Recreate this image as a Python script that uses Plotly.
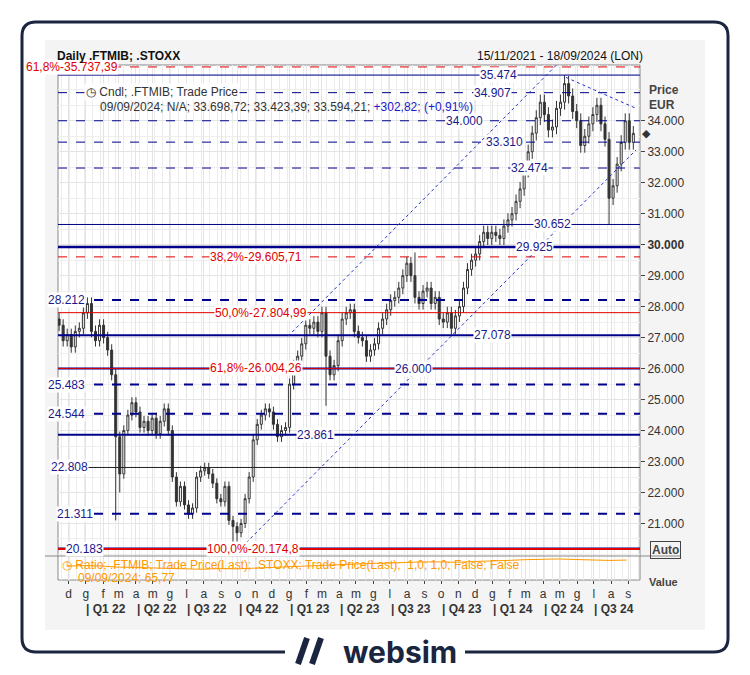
import pandas as pd
import plotly.graph_objects as go

# page body has an 8px margin, so the figure is drawn 8px smaller and shifted
OFF = 8
W, H = 750 - OFF, 675 - OFF

# weekly closes of .FTMIB (15/11/2021 - 18/09/2024)
closes = [
    27400, 26900,
    27100, 26700, 27200, 27300,
    27800, 28100, 27200, 26900,
    27400, 27000, 26600, 25800,
    23800, 22600, 24000, 24500, 24900,
    24600, 24100, 24300, 24000,
    24400, 23900, 24300, 24700,
    24000, 22500, 21700, 22200,
    21600, 21300, 21500, 22500, 22700,
    22800, 22600, 22300, 21800,
    21700, 22200, 21100, 20900,
    20700, 21000, 21800, 22500,
    23700, 24200, 24500, 24700,
    24600, 24200, 23800, 24000, 24100,
    25500, 26100, 26400, 26800,
    27400, 27300, 27500, 27200,
    27800, 26400, 25800, 26100, 26900,
    27600, 27800, 27900, 27200,
    27000, 26900, 26400, 26600,
    26800, 27300, 27600, 27900, 28200,
    28300, 28600, 29000, 29400,
    29000, 28300, 28100, 28500,
    28600, 28100, 28300, 27600,
    27500, 27800, 27300, 27700, 28000,
    28600, 29200, 29500, 29700,
    30100, 30400, 30200, 30400,
    30300, 30200, 30600, 30800,
    31000, 31400, 31800, 32400,
    33000, 33600, 34100, 34600,
    34200, 33700, 33800, 34400,
    34600, 35200, 34800, 34300,
    34000, 33200, 33500, 33900,
    34200, 34500, 33900, 33400,
    31500, 31900, 32600, 33300,
    34000, 33300, 33594,
]
first_open = 27600
# weeks with long wicks: (week index, value)
deep_lows = [(14, 21100), (15, 22000), (43, 20400), (44, 20250), (66, 24800), (136, 30650)]
deep_highs = [(125, 35474), (88, 29750)]

# ratio FTMIB/STOXX, monthly
ratio_dates = pd.date_range("2021-11-15", "2024-09-15", freq="MS")
ratio_vals = [62.5, 62.8, 62.6, 62.0, 61.8, 61.5, 61.6, 61.0, 60.8, 61.2, 61.0, 61.4,
              61.8, 62.2, 62.6, 63.0, 63.4, 63.6, 64.0, 64.2, 64.6, 64.8, 64.8, 64.6,
              65.0, 65.2, 65.6, 66.0, 66.2, 66.4, 66.1, 65.8, 65.6, 65.8][:len(ratio_dates)]

# horizontal levels: value, label, colour, width, dash, label x (date)
levels = [
    (35474, "35.474", "#00008b", 1, "solid", "2024-01-15"),
    (34907, "34.907", "#00008b", 1, "dash", "2024-01-05"),
    (34000, "34.000", "#00008b", 1, "dash", "2023-11-15"),
    (33310, "33.310", "#00008b", 1, "dash", "2024-01-25"),
    (32474, "32.474", "#00008b", 1, "dash", "2024-03-10"),
    (30652, "30.652", "#00008b", 1, "solid", "2024-04-20"),
    (29925, "29.925", "#00008b", 2.5, "solid", "2024-03-20"),
    (28212, "28.212", "#00008b", 2, "dash", "2021-12-01"),
    (27078, "27.078", "#00008b", 2, "solid", "2024-01-05"),
    (26000, "26.000", "#00008b", 2, "solid", "2023-08-15"),
    (25483, "25.483", "#00008b", 2, "dash", "2021-12-01"),
    (24544, "24.544", "#00008b", 2, "dash", "2021-12-01"),
    (23861, "23.861", "#00008b", 2, "solid", "2023-02-20"),
    (22808, "22.808", "#222222", 1, "solid", "2021-12-05"),
    (21311, "21.311", "#00008b", 2, "dash", "2021-12-15"),
    (20183, "20.183", "#00008b", 2.5, "solid", "2022-01-01"),
]
fibs = [
    (35737.39, "61,8%-35.737,39", "dash", "2021-12-10"),
    (29605.71, "38,2%-29.605,71", "dash", "2022-11-05"),
    (27804.99, "50,0%-27.804,99", "solid", "2022-11-15"),
    (26004.26, "61,8%-26.004,26", "solid", "2022-11-05"),
    (20174.8, "100,0%-20.174,8", "solid", "2022-11-01"),
]
# trend lines: (date0, price0, date1, price1)
trends = [
    ("2022-10-19", 20380, "2024-09-18", 33060),
    ("2023-01-02", 27045, "2024-04-28", 35800),
    ("2024-05-15", 35400, "2024-09-18", 34400),
]

months = pd.date_range("2021-12-01", "2024-09-01", freq="MS")
month_letters = ["d", "g", "f", "m", "a", "m", "g", "l", "a", "s", "o", "n"] * 3
quarters = ["Q1 22", "Q2 22", "Q3 22", "Q4 22", "Q1 23", "Q2 23", "Q3 23",
            "Q4 23", "Q1 24", "Q2 24", "Q3 24"]
quarter_mid = pd.date_range("2022-01-01", periods=len(quarters), freq="3MS") + pd.Timedelta(days=40)
price_ticks = list(range(21000, 35000, 1000))

dates = pd.date_range("2021-11-17", "2024-09-13", periods=len(closes))
opens = [first_open] + closes[:-1]
highs = [max(o, c) * 1.007 for o, c in zip(opens, closes)]
lows = [min(o, c) * 0.993 for o, c in zip(opens, closes)]
for i, v in deep_lows:
    lows[i] = v
for i, v in deep_highs:
    highs[i] = v


def px_(x):
    return (x - OFF) / W


def py(y):
    return 1 - (y - OFF) / H


x0, x1 = px_(58), px_(640)
FONT = "Liberation Sans"

fig = go.Figure()
fig.add_trace(go.Candlestick(
    x=dates, open=opens, high=highs, low=lows, close=closes,
    increasing=dict(line=dict(color="#333", width=1), fillcolor="white"),
    decreasing=dict(line=dict(color="#333", width=1), fillcolor="#333"),
    whiskerwidth=0, showlegend=False, hoverinfo="skip",
))
fig.add_trace(go.Scatter(x=ratio_dates, y=ratio_vals, mode="lines",
                         line=dict(color="#ff9900", width=1), yaxis="y2",
                         showlegend=False, hoverinfo="skip"))

shapes = []
anns = []
for v, lab, col, w, dash, lx in levels:
    shapes.append(dict(type="line", xref="x domain", yref="y", x0=0, x1=1, y0=v, y1=v,
                       line=dict(color=col, width=w, dash=dash)))
    anns.append(dict(x=lx, y=v, xref="x", yref="y", text=lab, showarrow=False,
                     font=dict(color="#1a1a8c", size=12), bgcolor="white", borderpad=0))
for v, lab, dash, lx in fibs:
    shapes.append(dict(type="line", xref="x domain", yref="y", x0=0, x1=1, y0=v, y1=v,
                       line=dict(color="#e00000", width=2 if v < 21000 else 1, dash=dash)))
    anns.append(dict(x=lx, y=v, xref="x", yref="y", text=lab, showarrow=False,
                     font=dict(color="#e00000", size=12), bgcolor="white", borderpad=0))
for d0, p0, d1, p1 in trends:
    shapes.append(dict(type="line", xref="x", yref="y", x0=d0, y0=p0, x1=d1, y1=p1,
                       line=dict(color="#2233cc", width=1, dash="dot")))

# frame, panel and page border
shapes.append(dict(type="rect", xref="paper", yref="paper", x0=px_(45), x1=px_(705),
                   y0=py(630), y1=py(40), fillcolor="#f4f4f4", line=dict(width=0), layer="below"))
shapes.append(dict(type="rect", xref="paper", yref="paper", x0=x0, x1=x1,
                   y0=py(580), y1=py(65), fillcolor="white", line=dict(color="#888", width=1),
                   layer="below"))
shapes.append(dict(type="line", xref="paper", yref="paper", x0=px_(45), x1=px_(680),
                   y0=py(556), y1=py(556), line=dict(color="#888", width=1)))
r = 14
bx0, bx1, by0, by1 = 22, 728, 22, 652
path = (f"M {px_(bx0 + r)},{py(by0)} L {px_(bx1 - r)},{py(by0)} "
        f"Q {px_(bx1)},{py(by0)} {px_(bx1)},{py(by0 + r)} L {px_(bx1)},{py(by1 - r)} "
        f"Q {px_(bx1)},{py(by1)} {px_(bx1 - r)},{py(by1)} L {px_(bx0 + r)},{py(by1)} "
        f"Q {px_(bx0)},{py(by1)} {px_(bx0)},{py(by1 - r)} L {px_(bx0)},{py(by0 + r)} "
        f"Q {px_(bx0)},{py(by0)} {px_(bx0 + r)},{py(by0)} Z")
shapes.append(dict(type="path", xref="paper", yref="paper", path=path,
                   line=dict(color="#1b2540", width=3), layer="below"))
shapes.append(dict(type="rect", xref="paper", yref="paper", x0=px_(285), x1=px_(465),
                   y0=py(666), y1=py(638), fillcolor="white", line=dict(width=0)))
for sx in (298, 312):
    shapes.append(dict(type="line", xref="paper", yref="paper", x0=px_(sx + 9), x1=px_(sx),
                       y0=py(638), y1=py(664), line=dict(color="#1b2540", width=6)))

txt = dict(xref="paper", yref="paper", showarrow=False, yanchor="middle")
anns += [
    dict(x=px_(55), y=py(56), text="<b>Daily .FTMIB; .STOXX</b>", xanchor="left",
         font=dict(size=12, color="#111"), **txt),
    dict(x=px_(645), y=py(56), text="15/11/2021 - 18/09/2024 (LON)", xanchor="right",
         font=dict(size=12, color="#111"), **txt),
    dict(x=px_(84), y=py(92), text="◷ Cndl; .FTMIB; Trade Price", xanchor="left",
         font=dict(size=12, color="#333"), bgcolor="white", **txt),
    dict(x=px_(98), y=py(107),
         text="09/09/2024; N/A; 33.698,72; 33.423,39; 33.594,21; "
              "<span style='color:#1a1acc'>+302,82; (+0,91%)</span>",
         xanchor="left", font=dict(size=12, color="#333"), **txt),
    dict(x=px_(647), y=py(90), text="<b>Price</b>", xanchor="left",
         font=dict(size=12, color="#444"), **txt),
    dict(x=px_(647), y=py(105), text="<b>EUR</b>", xanchor="left",
         font=dict(size=12, color="#444"), **txt),
    dict(x=px_(650), y=py(550), text="<b>Auto</b>", xanchor="left", bordercolor="#444",
         borderwidth=1, borderpad=1, font=dict(size=12, color="#444"), **txt),
    dict(x=px_(647), y=py(582), text="<b>Value</b>", xanchor="left",
         font=dict(size=11, color="#444"), **txt),
    dict(x=px_(60), y=py(565), text="◷ Ratio; .FTMIB; Trade Price(Last); .STOXX; Trade Price(Last);  1,0; 1,0; False; False",
         xanchor="left", font=dict(size=12, color="#ff9900"), **txt),
    dict(x=px_(76), y=py(578), text="09/09/2024; 65,77", xanchor="left",
         font=dict(size=12, color="#ff9900"), **txt),
    dict(x=px_(646), y=py(133), text="◆", xanchor="center",
         font=dict(size=11, color="#333"), **txt),
    dict(x=px_(400), y=py(652), text="<b>websim</b>", xanchor="center",
         font=dict(size=30, color="#1b2540", family="Inter"), **txt),
]
for q, qd in zip(quarters, quarter_mid):
    anns.append(dict(x=qd, y=py(609), xref="x", yref="paper", text=f"<b>| {q}</b>",
                     showarrow=False, yanchor="middle", font=dict(size=12, color="#333")))

fig.update_layout(
    width=W, height=H, margin=dict(l=0, r=0, t=0, b=0),
    paper_bgcolor="white", plot_bgcolor="white", separators=",.",
    shapes=shapes, annotations=anns,
    font=dict(family=FONT, size=12, color="#333"),
    xaxis=dict(domain=[x0, x1], range=["2021-11-15", "2024-09-25"], anchor="y2",
               rangeslider=dict(visible=False), tickvals=months + pd.Timedelta(days=3),
               ticktext=month_letters[:len(months)], showgrid=True, gridcolor="#e4e4e4",
               ticks="outside", ticklen=3, tickfont=dict(size=12, color="#333"),
               minor=dict(showgrid=True, gridcolor="#ececec", dtick=7 * 86400000 * 2),
               zeroline=False),
    yaxis=dict(domain=[py(556), py(65)], range=[19950, 35800], side="right",
               tickvals=price_ticks,
               ticktext=[f"<b>{v:,}</b>".replace(",", ".") if v == 30000 else f"{v:,}".replace(",", ".")
                         for v in price_ticks],
               showgrid=True, gridcolor="#e4e4e4", ticks="outside", ticklen=4,
               minor=dict(showgrid=True, gridcolor="#eeeeee", dtick=500),
               tickfont=dict(size=12, color="#333"), zeroline=False),
    yaxis2=dict(domain=[py(580), py(556)], range=[55, 68], side="right",
                showticklabels=False, showgrid=False, zeroline=False),
)

fig.write_html("out.html")
